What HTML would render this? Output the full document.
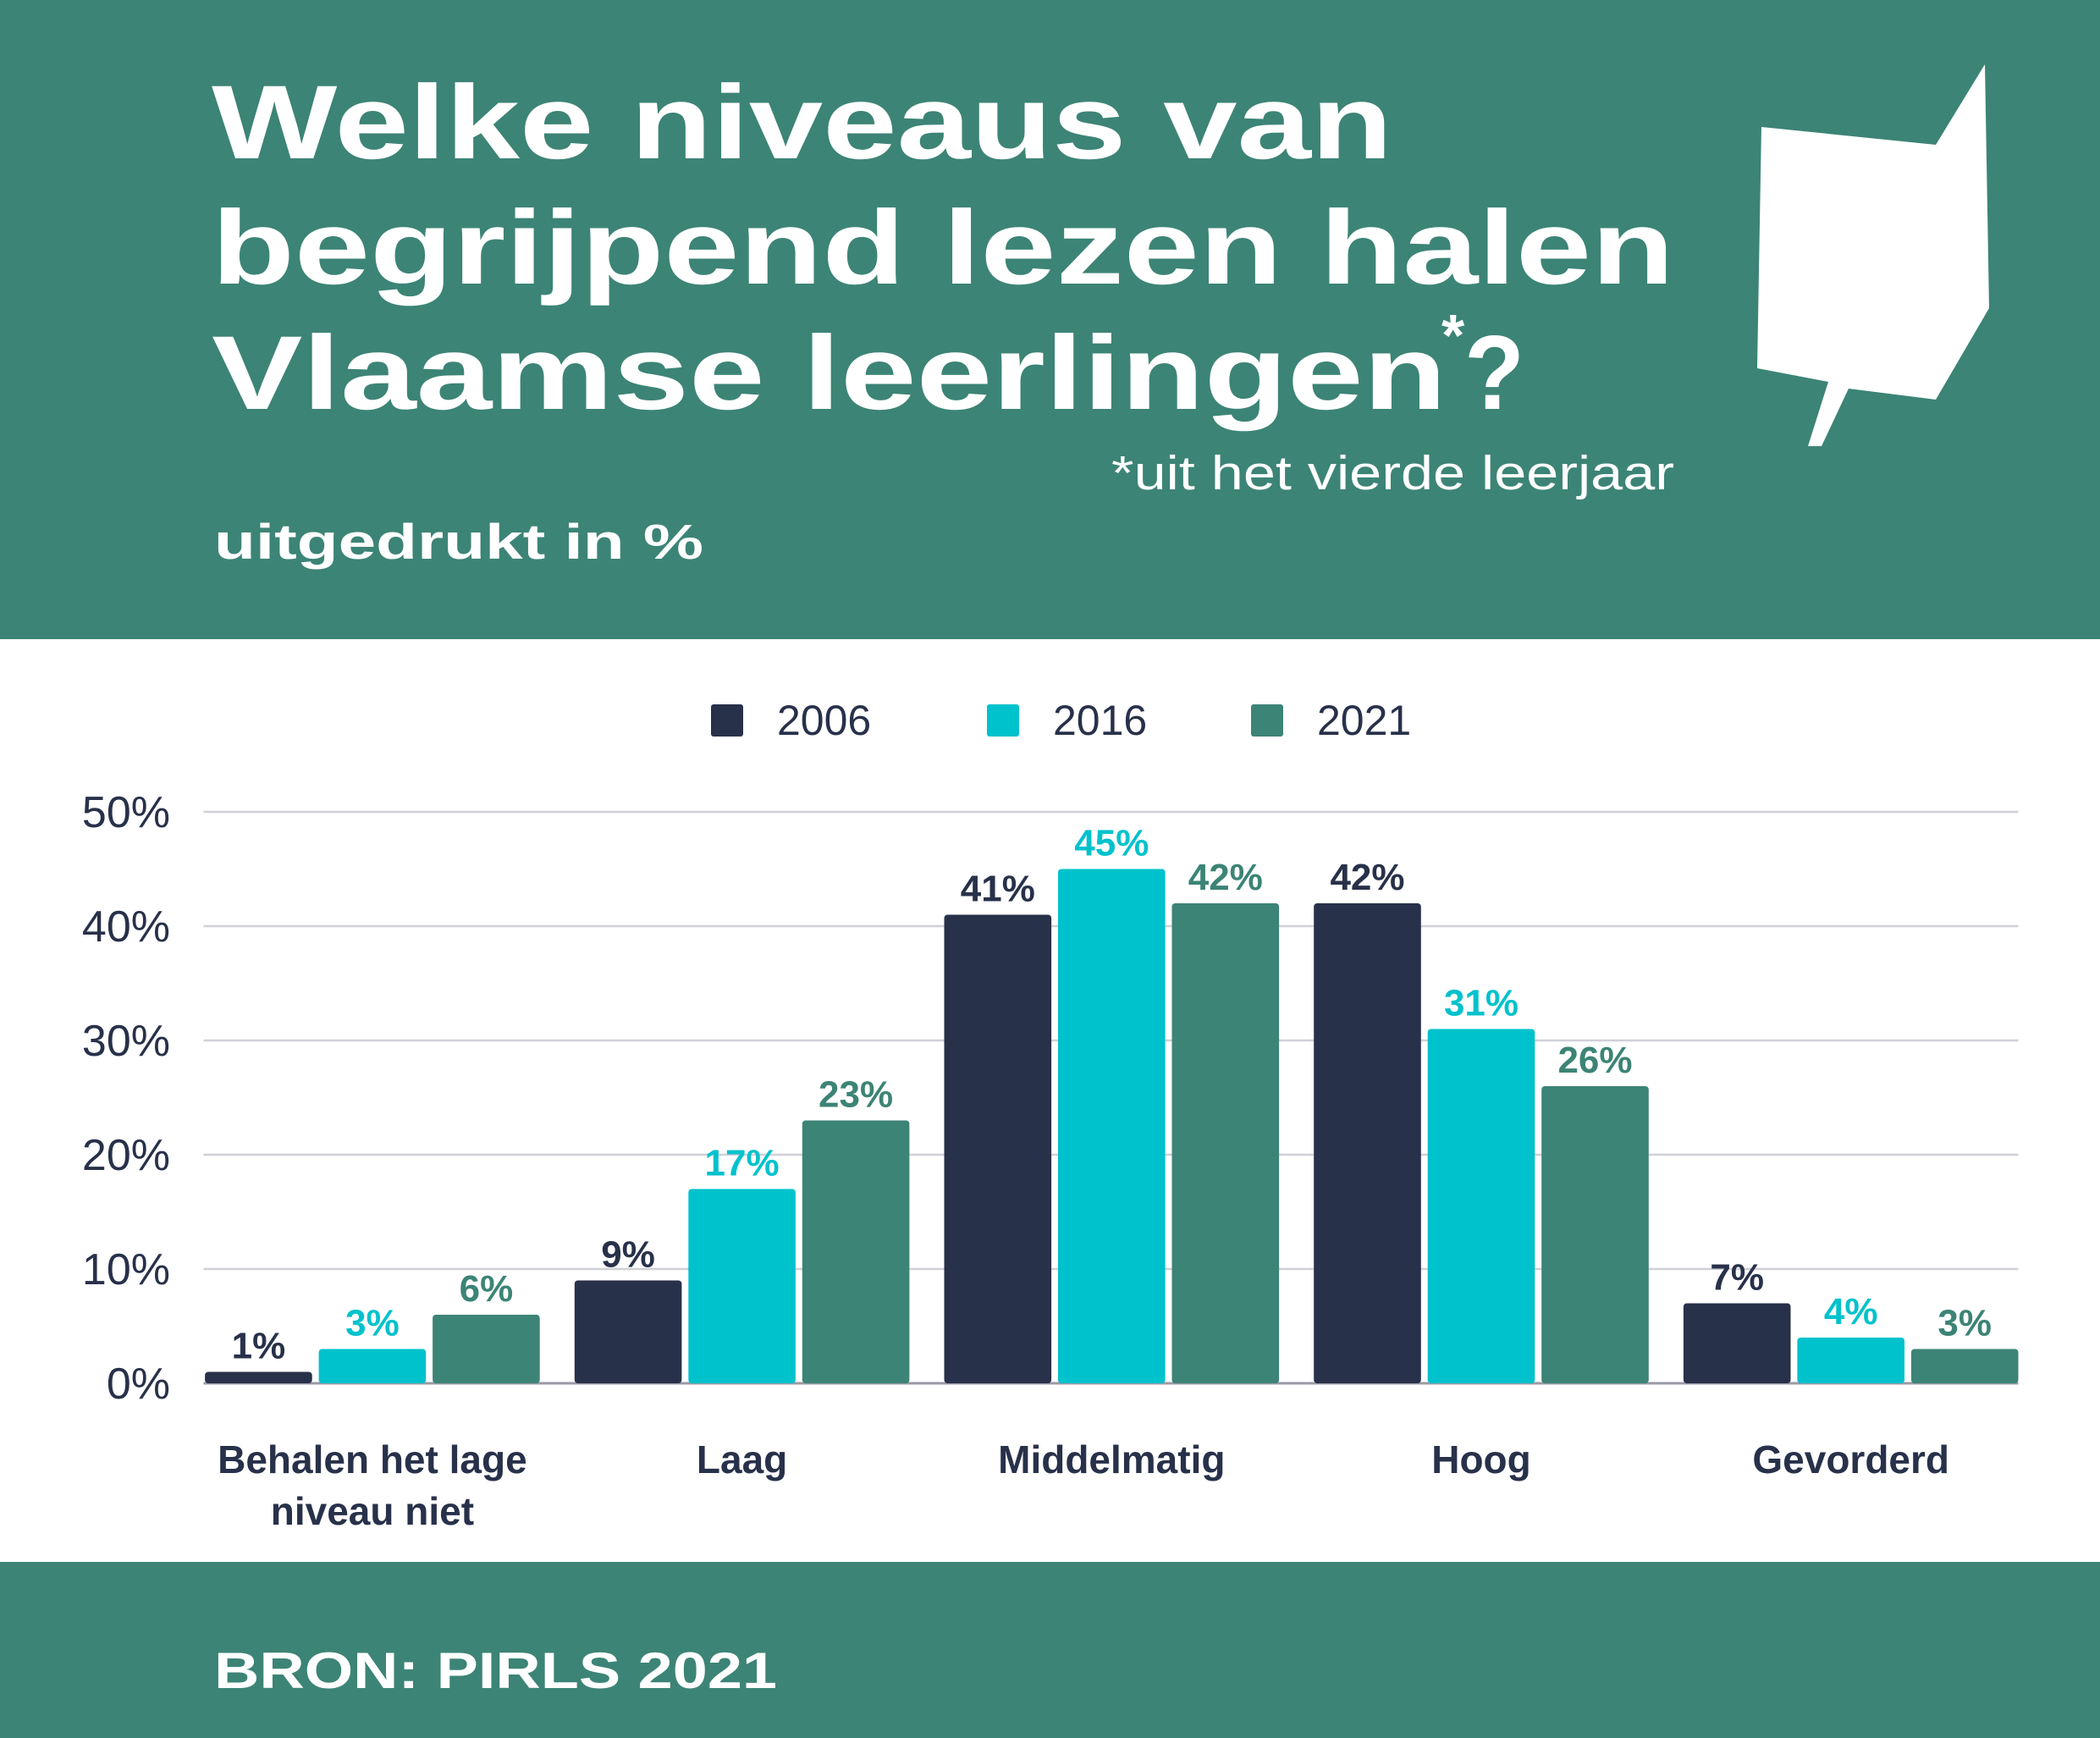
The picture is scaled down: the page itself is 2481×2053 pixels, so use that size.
<!DOCTYPE html>
<html><head><meta charset="utf-8"><style>
html,body{margin:0;padding:0;background:#fff}
svg{display:block}
text{font-family:"Liberation Sans",sans-serif}
</style></head><body>
<svg id="chart" width="2481" height="2053" viewBox="0 0 2481 2053" xmlns="http://www.w3.org/2000/svg">
<rect x="0" y="0" width="2481" height="755" fill="#3c8476"/>
<rect x="0" y="1845" width="2481" height="208" fill="#3c8476"/>
<g fill="#fff" font-weight="bold" font-size="124">
<text x="250" y="187" textLength="1395" lengthAdjust="spacingAndGlyphs">Welke niveaus van</text>
<text x="250" y="335" textLength="1728" lengthAdjust="spacingAndGlyphs">begrijpend lezen halen</text>
<text x="250" y="483" textLength="1459" lengthAdjust="spacingAndGlyphs">Vlaamse leerlingen</text>
<text x="1703" y="420" font-size="70">*</text>
<text x="1730" y="483" textLength="71" lengthAdjust="spacingAndGlyphs">?</text>
</g>
<text x="1313" y="578" fill="#fff" font-size="57" textLength="665" lengthAdjust="spacingAndGlyphs">*uit het vierde leerjaar</text>
<text x="253" y="660" fill="#fff" font-size="58" font-weight="bold" textLength="578" lengthAdjust="spacingAndGlyphs">uitgedrukt in %</text>
<text x="253" y="1994" fill="#fff" font-size="60" font-weight="bold" textLength="665" lengthAdjust="spacingAndGlyphs">BRON: PIRLS 2021</text>
<polygon fill="#fff" points="2081,150 2287,171 2345,76 2350,364 2287,472 2184,459 2152,527 2136,527 2160,451 2076,435"/>
<g id="legend"></g>
<g id="grid"></g>
<g id="bars"></g>
</svg>
<script>
const categories=[["Behalen het lage","niveau niet"],["Laag"],["Middelmatig"],["Hoog"],["Gevorderd"]];
const seriesNames=["2006","2016","2021"];
const v2006=[1,9,41,42,7];
const v2016=[3,17,45,31,4];
const v2021=[6,23,42,26,3];
const yTicks=[0,10,20,30,40,50];
const series=[v2006,v2016,v2021];
const colors=["#28314a","#00c2cc","#3c8476"];
const NS="http://www.w3.org/2000/svg";
const L=240.5,R=2384.5,Y0=1634,Y50=959;
const y=v=>Y0+(Y50-Y0)*v/50;
const gw=436.7, step=134.5, bw=126.6;
function mk(tag,attrs,parent,txt){const e=document.createElementNS(NS,tag);for(const k in attrs)e.setAttribute(k,attrs[k]);if(txt!==undefined)e.textContent=txt;parent.appendChild(e);return e;}
const grid=document.getElementById('grid');
yTicks.forEach(t=>{
  const l=mk('line',{x1:L,x2:R,y1:y(t),y2:y(t),stroke:t===0?'#9a9aa6':'#d0d0d8','stroke-width':t===0?3:2.5},grid);
  
  
  const tx=mk('text',{x:201,y:y(t)+18,'text-anchor':'end','font-size':52,fill:'#28314a'},grid,t+'%');
  
  
});
const bars=document.getElementById('bars');
categories.forEach((c,i)=>{
  const gx=L+gw*i+1.6;
  series.forEach((s,k)=>{
    const x=gx+step*k, v=s[i];
    const r=mk('rect',{x:x,y:y(v),width:bw,height:Y0-y(v),fill:colors[k],rx:4},bars);
    
    
    const t=mk('text',{x:x+bw/2,y:y(v)-16,'text-anchor':'middle','font-size':44,'font-weight':'bold',fill:colors[k]},bars,v+'%');
    
    
  });
  c.forEach((line,j)=>{
    const t=mk('text',{x:gx+step+bw/2,y:1740+j*61,'text-anchor':'middle','font-size':46,'font-weight':'bold',fill:'#28314a'},bars,line);
    
    
  });
});
const legend=document.getElementById('legend');
const lx=[840,1166,1478];
seriesNames.forEach((n,k)=>{
  const r=mk('rect',{x:lx[k],y:832,width:38,height:38,fill:colors[k],rx:3},legend);
  
  
  const t=mk('text',{x:lx[k]+78,y:868,'font-size':50,fill:'#28314a'},legend,n);
  
  
});
</script>
</body></html>
